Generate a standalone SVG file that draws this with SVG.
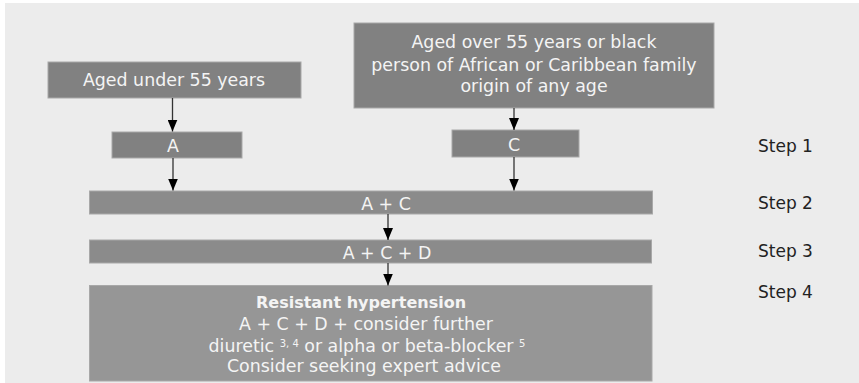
<svg xmlns="http://www.w3.org/2000/svg" width="859" height="383" viewBox="0 0 859 383">
<style>
.box{stroke:#a8a8a8;stroke-width:1}
.b1{fill:#818181}
.b2{fill:#8b8b8b}
.b3{fill:#969696}
.t{font-family:"DejaVu Sans","Liberation Sans",sans-serif;font-size:17.4px;fill:#f4f4f4;text-anchor:middle}
.tb{font-weight:bold;font-size:16px}
.sup{font-size:10px}
.step{font-family:"DejaVu Sans","Liberation Sans",sans-serif;font-size:17px;fill:#222}
.conn{stroke:#333;stroke-width:1.3;fill:none;marker-end:url(#ah)}
</style>
<defs>
<marker id="ah" viewBox="0 0 12 10" refX="12" refY="5" markerWidth="12" markerHeight="10" markerUnits="userSpaceOnUse" orient="auto">
<path d="M0,0 L12,5 L0,10 z" fill="#000"/>
</marker>
</defs>
<rect x="0" y="0" width="859" height="383" fill="#ffffff"/>
<rect x="5" y="3" width="854" height="380" fill="#ececec"/>
<g id="under55">
<rect class="box b1" x="48" y="62" width="253" height="36"/>
<text class="t" x="174" y="85.5">Aged under 55 years</text>
</g>
<g id="over55">
<rect class="box b1" x="354" y="23" width="360" height="85"/>
<text class="t" x="534" y="48">Aged over 55 years or black</text>
<text class="t" x="534" y="70.5">person of African or Caribbean family</text>
<text class="t" x="534" y="92">origin of any age</text>
</g>
<g id="a">
<rect class="box b1" x="112" y="132" width="130" height="26"/>
<text class="t" x="173" y="151.5">A</text>
</g>
<g id="c">
<rect class="box b1" x="452" y="130" width="127" height="27"/>
<text class="t" x="514" y="151">C</text>
</g>
<g id="ac">
<rect class="box b2" x="89.5" y="191" width="563" height="23"/>
<text class="t" x="386" y="209.5">A + C</text>
</g>
<g id="acd">
<rect class="box b2" x="89.5" y="240" width="562" height="23"/>
<text class="t" x="387" y="259">A + C + D</text>
</g>
<g id="resistant">
<rect class="box b3" x="89.5" y="285.5" width="562.5" height="95.5"/>
<text class="t tb" x="361" y="307.5">Resistant hypertension</text>
<text class="t" x="366" y="330">A + C + D + consider further</text>
<text class="t" x="367" y="351.5">diuretic <tspan class="sup" baseline-shift="super">3, 4</tspan> or alpha or beta-blocker <tspan class="sup" baseline-shift="super">5</tspan></text>
<text class="t" x="364" y="371.5">Consider seeking expert advice</text>
</g>
<g id="steps">
<text class="step" x="758" y="152">Step 1</text>
<text class="step" x="758" y="209">Step 2</text>
<text class="step" x="758" y="256.5">Step 3</text>
<text class="step" x="758" y="298">Step 4</text>
</g>
<g id="connectors">
<line class="conn" x1="172.5" y1="98" x2="172.5" y2="131.5"/>
<line class="conn" x1="514" y1="108" x2="514" y2="130"/>
<line class="conn" x1="173" y1="158" x2="173" y2="190.5"/>
<line class="conn" x1="514" y1="157" x2="514" y2="190.5"/>
<line class="conn" x1="388" y1="214" x2="388" y2="240"/>
<line class="conn" x1="388" y1="263" x2="388" y2="285.5"/>
</g>
</svg>
